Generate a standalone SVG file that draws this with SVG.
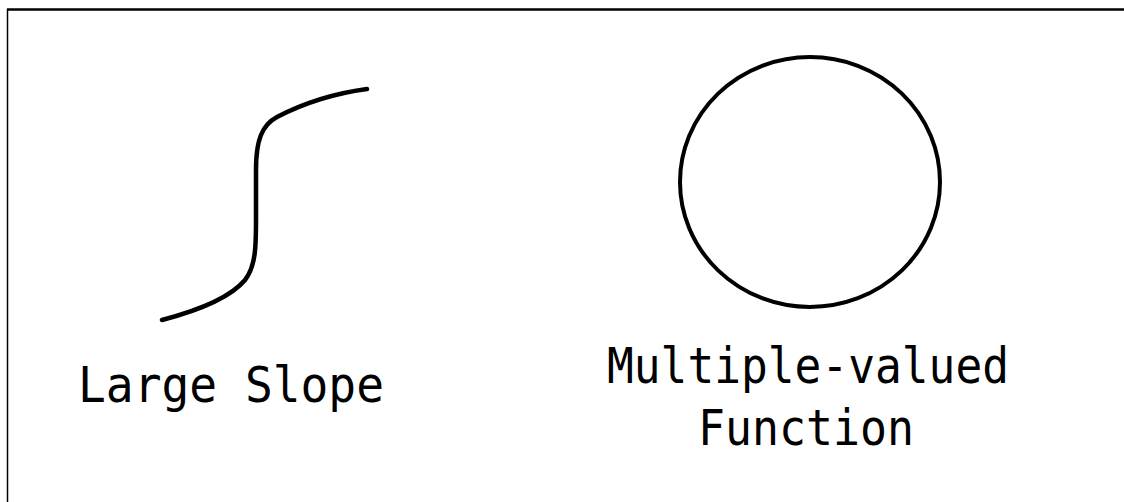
<svg xmlns="http://www.w3.org/2000/svg" width="1124" height="502" viewBox="0 0 1124 502">
  <style>
    .ink { fill: none; stroke: #000; stroke-linecap: round; stroke-linejoin: round; }
    .lbl { font-family: "DejaVu Sans Mono", "Liberation Mono", monospace; font-size: 49px; fill: #000; }
  </style>
  <rect x="0" y="0" width="1124" height="502" fill="#fff"/>
  <g id="frame">
    <line x1="7" y1="9.5" x2="1124" y2="9.5" stroke="#000" stroke-width="2.5"/>
    <line x1="7.5" y1="9" x2="7.5" y2="502" stroke="#000" stroke-width="1.5"/>
  </g>
  <g id="large-slope">
    <path class="ink" stroke-width="4.5" d="M162,320 C200,310 230,298 245,280 C256,266 256,245 256,220 L256,170 C256,140 262,125 277,117 C300,105 330,94 367,89"/>
    <text class="lbl" x="78" y="402" textLength="306" lengthAdjust="spacingAndGlyphs">Large Slope</text>
  </g>
  <g id="multiple-valued">
    <ellipse class="ink" stroke-width="4" cx="810" cy="182" rx="130" ry="125"/>
    <text class="lbl" x="607" y="383" textLength="402" lengthAdjust="spacingAndGlyphs">Multiple-valued</text>
    <text class="lbl" x="698" y="445" textLength="216" lengthAdjust="spacingAndGlyphs">Function</text>
  </g>
  <g id="connectors"></g>
</svg>
